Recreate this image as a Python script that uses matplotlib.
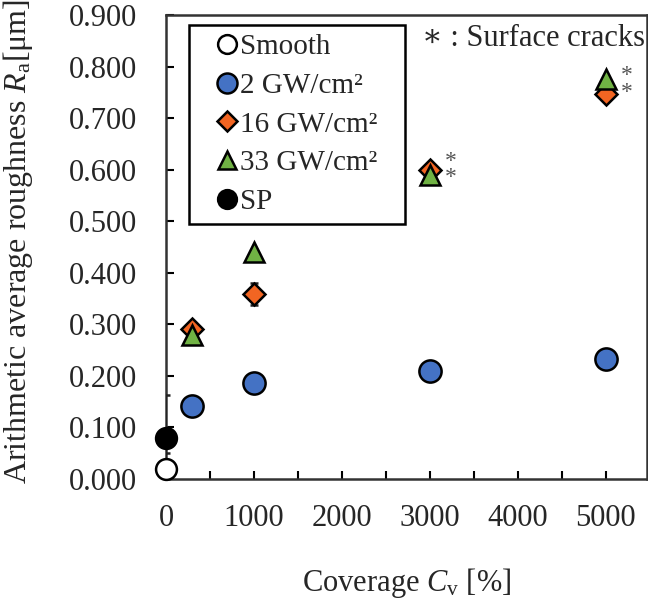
import numpy as np
import matplotlib
matplotlib.use('Agg')
import matplotlib.pyplot as plt
from matplotlib.ticker import MultipleLocator, FormatStrFormatter

## data
smooth_x = [0]
smooth_y = [0.020]
smooth_err = [0.030]

gw2_x = [300, 1000, 3000, 5000]
gw2_y = [0.142, 0.186, 0.209, 0.233]
gw2_err = [0.0, 0.020, 0.0, 0.0]

gw16_x = [300, 1000, 3000, 5000]
gw16_y = [0.290, 0.359, 0.600, 0.747]
gw16_err = [0.0, 0.021, 0.0, 0.0]

gw33_x = [300, 1000, 3000, 5000]
gw33_y = [0.280, 0.440, 0.590, 0.775]

sp_x = [0]
sp_y = [0.080]
sp_err = [0.082]

labels = ['Smooth', '2 GW/cm²', '16 GW/cm²', '33 GW/cm²', 'SP']

## coverages where the 16 and 33 GW/cm² samples showed surface cracks
crack_x = [3000, 5000]

## style
matplotlib.rcParams.update({'font.family': ['Liberation Serif', 'DejaVu Serif'],
                            'mathtext.fontset': 'custom',
                            'mathtext.rm': 'Liberation Serif',
                            'mathtext.it': 'Liberation Serif:italic',
                            'font.size': 22})
txt_color = '#262626'
blue = '#4472C4'
orange = '#F26522'
green = '#70B244'
fs = 22

fig = plt.figure(figsize=(6.48, 6.04), dpi=100)
ax = fig.add_axes([0.2562, 0.2070, 0.7423, 0.7682])

mk = dict(linestyle='none', markeredgecolor='black', markeredgewidth=1.8,
          ecolor='#222222', elinewidth=1.3, capsize=3, capthick=1.3)
plot_args = [
    (smooth_x, smooth_y, smooth_err, 'o', 15, 'white', 3),
    (gw2_x, gw2_y, gw2_err, 'o', 16, blue, 3),
    (gw16_x, gw16_y, gw16_err, 'D', 11, orange, 4),
    (gw33_x, gw33_y, None, '^', 15, green, 5),
    (sp_x, sp_y, sp_err, 'o', 15, 'black', 3),
]
for (x, y, err, m, ms, fc, z), lab in zip(plot_args, labels):
    eb = ax.errorbar(x, y, yerr=err, marker=m, markersize=ms, markerfacecolor=fc,
                     label=lab, zorder=z, **mk)
    eb.lines[0].set_clip_on(False)

## two stacked asterisks beside the cracked points
for x in crack_x:
    i = gw16_x.index(x)
    ym = (gw16_y[i] + gw33_y[i]) / 2.
    ax.annotate('*\n*', xy=(x, ym), xytext=(15, 2), textcoords='offset points',
                ha='center', va='center', fontsize=17, color='#555555',
                linespacing=0.72)
ax.text(0.532, 0.950, '∗ : Surface cracks', transform=ax.transAxes,
        ha='left', va='center', fontsize=fs, color=txt_color)

## axes makeup
ax.set_xlim(0, 5470)
ax.set_ylim(0, 0.9)
ax.xaxis.set_major_locator(MultipleLocator(1000))
ax.xaxis.set_minor_locator(MultipleLocator(500))
ax.yaxis.set_major_locator(MultipleLocator(0.1))
ax.yaxis.set_major_formatter(FormatStrFormatter('%.3f'))
ax.tick_params(which='both', direction='in', length=6, width=1.5, colors='black',
               labelcolor=txt_color, labelsize=fs)
ax.tick_params(axis='x', pad=18)
ax.tick_params(axis='y', pad=21)
for s in ax.spines.values():
    s.set_linewidth(1.8)
    s.set_color('#333333')

ax.set_xlabel('Coverage $C_{\\mathrm{v}}$ [%]', fontsize=fs, color=txt_color, labelpad=24)
ax.set_ylabel('Arithmetic average roughness $R_{\\mathrm{a}}$[μm]', fontsize=23,
              color=txt_color)
ax.yaxis.set_label_coords(-0.272, 0.512)

handles, lbls = ax.get_legend_handles_labels()
handles = [h[0] for h in handles]
leg_w, leg_h = 0.449, 0.42
leg = ax.legend(handles, lbls, loc='upper left',
                bbox_to_anchor=(0.048, 0.978 - leg_h, leg_w, leg_h), mode='expand',
                borderaxespad=0, fancybox=False, edgecolor='black', framealpha=1,
                handlelength=2.0, handletextpad=-0.55, labelspacing=0.42,
                borderpad=0.3, fontsize=21, markerscale=0.9)
leg.get_frame().set_linewidth(1.8)
for t in leg.get_texts():
    t.set_color(txt_color)

fig.savefig('out.png', dpi=100)
